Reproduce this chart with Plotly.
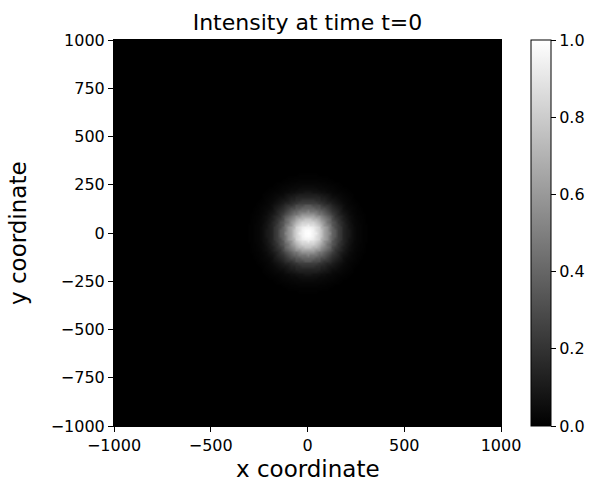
import numpy as np
import plotly.graph_objects as go

# Radial intensity profile of the pulse at t=0 (distance from centre -> intensity)
profile_radius = [0, 10, 20, 30, 40, 50, 60, 70, 80, 90, 100, 110, 120, 130, 140,
                  150, 160, 170, 180, 190, 200, 210, 220, 230, 240, 250, 260, 270,
                  280, 290, 300]
profile_intensity = [1.00, 0.99, 0.98, 0.95, 0.92, 0.87, 0.82, 0.76, 0.70, 0.64,
                     0.57, 0.51, 0.45, 0.39, 0.34, 0.29, 0.24, 0.20, 0.17, 0.14,
                     0.11, 0.09, 0.07, 0.055, 0.04, 0.03, 0.024, 0.018, 0.013,
                     0.009, 0.006]

# Grid of cell centres covering the domain
grid_x = np.linspace(-1000, 1000, 141)
grid_y = np.linspace(-1000, 1000, 141)

y_ticks = [-1000, -750, -500, -250, 0, 250, 500, 750, 1000]
x_ticks = [-1000, -500, 0, 500, 1000]
cbar_ticks = [0.0, 0.2, 0.4, 0.6, 0.8, 1.0]


def label(v):
    return str(v).replace("-", "\u2212")


# Each cell takes the profile value at its nearest tabulated radius
XX, YY = np.meshgrid(grid_x, grid_y)
R = np.sqrt(XX ** 2 + YY ** 2)
val = np.array(profile_intensity, dtype=float)
idx = np.rint(R / 10).astype(int)
Z = np.where(idx < len(val), val[np.minimum(idx, len(val) - 1)], 0.0)

font = "DejaVu Sans"
tick_font = dict(family=font, size=16, color="black")
label_font = dict(family=font, size=23, color="black")

# Plot area in pixels
W, H = 592, 483
L, Rm, T, B = 114, 91, 40, 57
pw, ph = W - L - Rm, H - T - B

fig = go.Figure(
    go.Heatmap(
        x=grid_x,
        y=grid_y,
        z=Z,
        zmin=0,
        zmax=1,
        zsmooth="best",
        colorscale=[[0, "#000000"], [1, "#ffffff"]],
        colorbar=dict(
            x=(531 - L) / pw,
            xanchor="left",
            xref="paper",
            y=0.5,
            yanchor="middle",
            len=1.0,
            lenmode="fraction",
            thickness=20,
            thicknessmode="pixels",
            outlinecolor="black",
            outlinewidth=1,
            ticks="outside",
            ticklen=5,
            tickcolor="black",
            tickvals=cbar_ticks,
            ticktext=[f"{t:.1f}" for t in cbar_ticks],
            tickfont=tick_font,
            xpad=0,
            ypad=0,
        ),
    )
)

axis_common = dict(
    range=[-1000, 1000],
    ticks="outside",
    ticklen=5,
    tickcolor="black",
    showline=True,
    linecolor="black",
    linewidth=1,
    mirror=True,
    showgrid=False,
    zeroline=False,
    tickfont=tick_font,
    automargin=False,
)

fig.update_layout(
    width=W,
    height=H,
    margin=dict(l=L, r=Rm, t=T, b=B, autoexpand=False),
    paper_bgcolor="white",
    plot_bgcolor="black",
    font=dict(family=font, color="black"),
    title=dict(
        text="Intensity at time t=0",
        x=(L + L + pw) / 2 / W,
        xanchor="center",
        y=1 - 22 / H,
        yanchor="middle",
        font=dict(family=font, size=22, color="black"),
    ),
    xaxis=dict(axis_common, tickvals=x_ticks, ticktext=[label(v) for v in x_ticks]),
    yaxis=dict(axis_common, tickvals=y_ticks, ticktext=[label(v) for v in y_ticks]),
    annotations=[
        dict(
            text="x coordinate",
            xref="paper",
            yref="paper",
            x=0.5,
            y=-(482.5 - (T + ph)) / ph,
            xanchor="center",
            yanchor="bottom",
            showarrow=False,
            borderpad=0,
            font=label_font,
        ),
        dict(
            text="y coordinate",
            xref="paper",
            yref="paper",
            x=(18 - L) / pw,
            y=0.5,
            xanchor="center",
            yanchor="middle",
            textangle=-90,
            showarrow=False,
            font=label_font,
        ),
    ],
)

fig.write_html("out.html")
